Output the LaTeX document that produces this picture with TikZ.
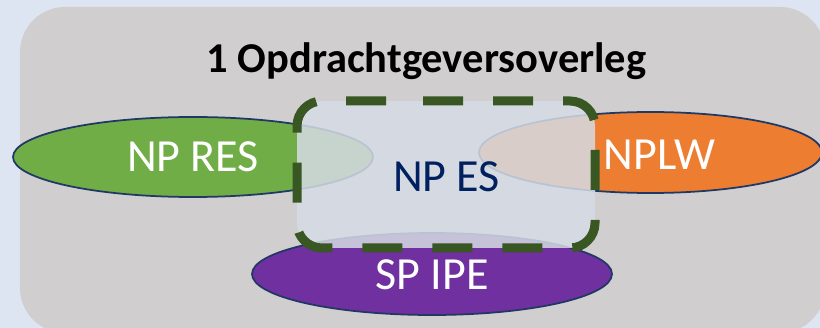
\documentclass[tikz,border=0pt]{standalone}
\usepackage{fontspec}
\setmainfont{Carlito}
\usetikzlibrary{shapes.geometric}
\definecolor{outerbg}{HTML}{DEE5F2}
\definecolor{panelgrey}{HTML}{D0CECE}
\definecolor{esfill}{HTML}{D6DCE5}
\definecolor{esborder}{HTML}{385723}
\definecolor{ringline}{HTML}{203864}
\definecolor{resgreen}{HTML}{70AD47}
\definecolor{lworange}{HTML}{ED7D31}
\definecolor{ipepurple}{HTML}{7030A0}
\definecolor{esnavy}{HTML}{002060}
\begin{document}
\begin{tikzpicture}[x=1pt,y=-1pt,
  ring/.style={ellipse, draw=ringline, line width=1.75pt, inner sep=0pt, outer sep=0pt},
  bigtext/.style={font=\fontsize{46}{50}\selectfont, anchor=base, inner sep=0pt},
  titletext/.style={font=\fontsize{42.5}{48}\selectfont\bfseries, anchor=base, inner sep=0pt},
  esbox/.style={fill=esfill, fill opacity=0.85, rounded corners=25pt, inner sep=0pt, outer sep=0pt},
  esdash/.style={draw=esborder, line width=9pt, dash pattern=on 40pt off 30pt, dash phase=55pt, rounded corners=25pt}
]
\fill[outerbg] (0,0) rectangle (820,328);
\useasboundingbox (0,0) rectangle (820,328);
\clip (0,0) rectangle (820,328);
\node[fill=panelgrey, rounded corners=45pt, minimum width=805pt, minimum height=326pt, inner sep=0pt, outer sep=0pt, anchor=north west] (panel) at (20,7) {};
\node[titletext] (title) at (426.5,73) {1 Opdrachtgeversoverleg};
\node[ring, fill=resgreen, minimum width=360pt, minimum height=80pt] (res) at (193,157) {};
\node[ring, fill=lworange, minimum width=343pt, minimum height=81pt] (lw) at (650.5,152.5) {};
\node[ring, fill=ipepurple, minimum width=360pt, minimum height=82pt] (ipe) at (432,274) {};
\node[esbox, minimum width=298pt, minimum height=147pt] (es) at (446,174.5) {};
\coordinate (esstart) at ([xshift=-38pt]es.north);
\draw[esdash] (esstart) -- (es.north east) -- (es.south east) -- (es.south west) -- (es.north west) -- (esstart);
\node[bigtext, text=white] (restext) at (193,172) {NP RES};
\node[bigtext, text=white] (lwtext) at (659.5,170) {NPLW};
\node[bigtext, text=white] (ipetext) at (432,290) {SP IPE};
\node[bigtext, text=esnavy] (estext) at (446.5,192) {NP ES};
\end{tikzpicture}
\end{document}
